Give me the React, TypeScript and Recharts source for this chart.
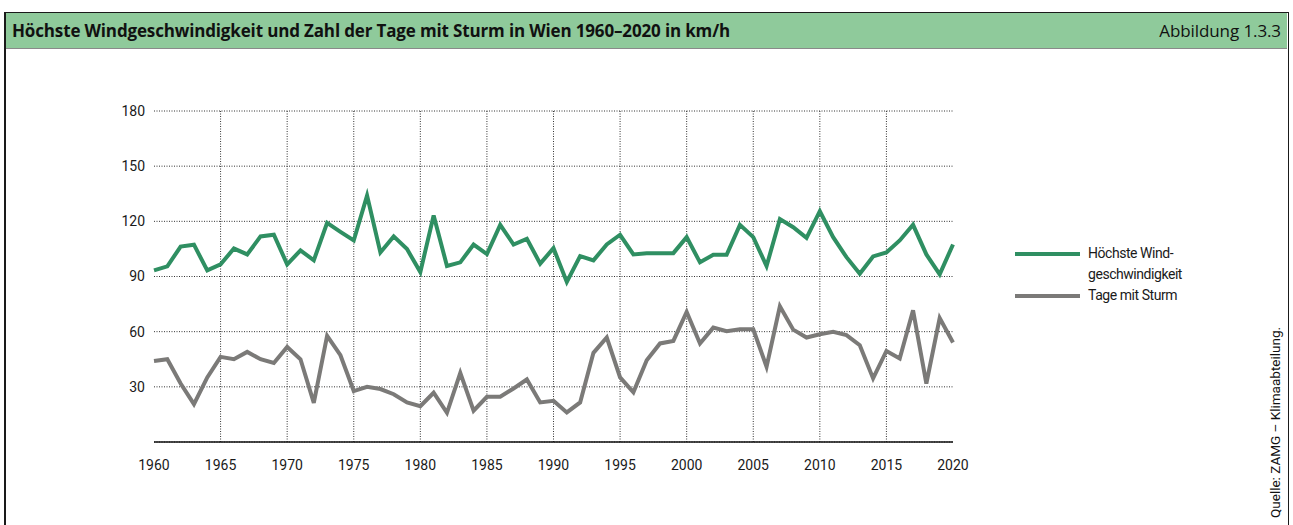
import React from 'react';
import { LineChart, Line, XAxis, YAxis, CartesianGrid, ReferenceLine } from 'recharts';

const years = [
  1960, 1961, 1962, 1963, 1964, 1965, 1966, 1967, 1968, 1969,
  1970, 1971, 1972, 1973, 1974, 1975, 1976, 1977, 1978, 1979,
  1980, 1981, 1982, 1983, 1984, 1985, 1986, 1987, 1988, 1989,
  1990, 1991, 1992, 1993, 1994, 1995, 1996, 1997, 1998, 1999,
  2000, 2001, 2002, 2003, 2004, 2005, 2006, 2007, 2008, 2009,
  2010, 2011, 2012, 2013, 2014, 2015, 2016, 2017, 2018, 2019,
  2020,
];

const maxWind = [
  93.3, 95.5, 106.3, 107.3, 93.3, 96.6, 105.2, 102, 111.8, 112.7,
  96.6, 104.2, 98.8, 119.2, 114.3, 109.6, 134, 103.1, 111.8, 104.9,
  92.4, 123.2, 95.7, 97.7, 107.4, 102.2, 118.1, 107.4, 110.5, 97,
  105.4, 87, 101.1, 98.8, 107.4, 112.7, 102, 102.7, 102.7, 102.7,
  111.4, 97.7, 101.8, 101.8, 118.1, 111.4, 95.7, 121.2, 116.8, 111,
  125.5, 111.4, 100.5, 91.5, 100.9, 103.1, 109.6, 118.1, 102, 91.2,
  107.4,
];

const stormDays = [
  44, 45, 31.8, 20.6, 35.1, 46.3, 45, 49, 45, 43,
  51.7, 45, 21.3, 57.7, 47.2, 27.7, 30, 28.8, 26, 21.5,
  19.5, 26.8, 15.9, 37.6, 17, 24.6, 24.6, 29.1, 34, 21.5,
  22.4, 16.1, 21.5, 48.5, 56.8, 35.1, 27, 44.5, 53.6, 55,
  70.7, 53.6, 62.2, 60.2, 61.3, 61.3, 40.9, 73.8, 61.1, 56.8,
  58.6, 59.9, 58.1, 52.6, 34.6, 49.5, 45.4, 71.6, 31.8, 67.4,
  54.1,
];

const xTicks = [1960, 1965, 1970, 1975, 1980, 1985, 1990, 1995, 2000, 2005, 2010, 2015, 2020];
const yTicks = [30, 60, 90, 120, 150, 180];
const gridYears = [1965, 1970, 1975, 1980, 1985, 1990, 1995, 2000, 2005, 2010, 2015];

const title = 'Höchste Windgeschwindigkeit und Zahl der Tage mit Sturm in Wien 1960–2020 in km/h';
const figureLabel = 'Abbildung 1.3.3';
const sourceText = 'Quelle: ZAMG – Klimaabteilung.';

const GREEN = '#2f8f62';
const GRAY = '#7b7a78';
const HEADER = '#8fca9b';

const seriesInfo = [
  { key: 'wind', label: ['Höchste Wind-', 'geschwindigkeit'], color: GREEN },
  { key: 'storm', label: ['Tage mit Sturm'], color: GRAY },
];

const data = years.map((y, i) => ({ year: y, wind: maxWind[i], storm: stormDays[i] }));

const FONT = 'Roboto, "Open Sans", sans-serif';
const TITLE_FONT = '"Open Sans", Roboto, sans-serif';

const LegendBox = () => (
  <div
    style={{
      position: 'absolute', left: 1015, top: 243, fontFamily: FONT, fontSize: 14, letterSpacing: -0.45,
      color: '#1a1a1a', lineHeight: '21px',
    }}
  >
    {seriesInfo.map((s) => (
      <div key={s.key} style={{ display: 'flex', alignItems: 'flex-start' }}>
        <div style={{ width: 65, height: 21, position: 'relative', marginRight: 8 }}>
          <div style={{ position: 'absolute', left: 0, right: 0, top: 9, height: 4, background: s.color }} />
        </div>
        <div>
          {s.label.map((l) => (
            <div key={l}>{l}</div>
          ))}
        </div>
      </div>
    ))}
  </div>
);

export default function App() {
  return (
    <div style={{ position: 'absolute', left: 0, top: 0, width: 1293, height: 525, background: '#fff', overflow: 'hidden' }}>
      <div
        style={{
          position: 'absolute', left: 4, top: 12, width: 1282, height: 520,
          borderLeft: '2px solid #1a1a1a', borderTop: '1.5px solid #1a1a1a', borderRight: '1.5px solid #1a1a1a',
        }}
      />
      <div
        style={{
          position: 'absolute', left: 6, top: 13, width: 1281, height: 36, background: HEADER,
          borderBottom: '1px solid #8a8a8a', fontFamily: TITLE_FONT, display: 'flex', alignItems: 'center',
          justifyContent: 'space-between', boxSizing: 'border-box', paddingLeft: 6, paddingRight: 6, color: '#111',
        }}
      >
        <span style={{ fontWeight: 700, fontSize: 17, letterSpacing: -0.15 }}>{title}</span>
        <span style={{ fontSize: 17, letterSpacing: -0.1 }}>{figureLabel}</span>
      </div>
      <div style={{ position: 'absolute', left: 0, top: 0 }}>
        <LineChart width={1293} height={525} data={data} margin={{ top: 111, right: 340, left: 94, bottom: 53 }}>
          <CartesianGrid vertical={false} stroke="#333" strokeDasharray="1 1.5" />
          {gridYears.map((g) => (
            <ReferenceLine key={g} x={g} stroke="#333" strokeDasharray="1 1.5" />
          ))}
          <XAxis
            dataKey="year"
            type="number"
            domain={[1960, 2020]}
            ticks={xTicks}
            tickLine={false}
            tickSize={6}
            tickMargin={12}
            axisLine={{ stroke: '#111', strokeWidth: 1.5 }}
            tick={{ fill: '#1a1a1a', fontSize: 14, fontFamily: FONT }}
            height={30}
            interval={0}
          />
          <YAxis
            type="number"
            domain={[0, 180]}
            ticks={yTicks}
            axisLine={false}
            tickLine={false}
            tickSize={6}
            tickMargin={3}
            width={60}
            tick={{ fill: '#1a1a1a', fontSize: 14, fontFamily: FONT }}
            interval={0}
          />
          <Line type="linear" dataKey="wind" stroke={GREEN} strokeWidth={4} dot={false} isAnimationActive={false} />
          <Line type="linear" dataKey="storm" stroke={GRAY} strokeWidth={4} dot={false} isAnimationActive={false} />
        </LineChart>
      </div>
      <LegendBox />
      <div
        style={{
          position: 'absolute', left: 1268, top: 518, transformOrigin: 'left top', transform: 'rotate(-90deg)',
          whiteSpace: 'nowrap', fontFamily: FONT, fontSize: 13.5, lineHeight: '15px', color: '#111',
        }}
      >
        {sourceText}
      </div>
    </div>
  );
}
